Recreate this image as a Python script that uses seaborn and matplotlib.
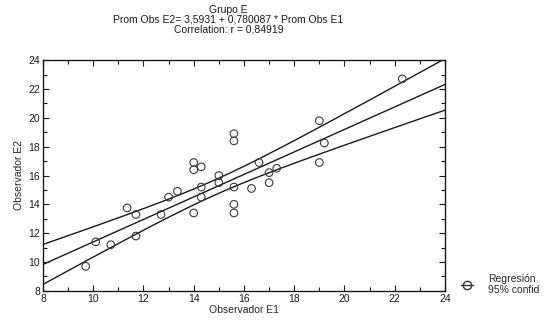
import numpy as np
import pandas as pd
import matplotlib
matplotlib.use("Agg")
import matplotlib.pyplot as plt
import seaborn as sns
from matplotlib.lines import Line2D
from matplotlib.ticker import MultipleLocator

# Data
obs_e1 = [9.7, 10.1, 10.7, 11.35, 11.7, 11.7, 12.7, 13.0, 13.35, 14.0, 14.0, 14.0,
          14.3, 14.3, 14.3, 15.0, 15.0, 15.6, 15.6, 15.6, 15.6, 15.6, 16.3, 16.6,
          17.0, 17.0, 17.3, 19.0, 19.2, 19.0, 22.3]
obs_e2 = [9.7, 11.4, 11.2, 13.75, 13.3, 11.8, 13.3, 14.5, 14.9, 16.9, 16.4, 13.4,
          16.6, 15.2, 14.5, 16.0, 15.5, 18.9, 18.4, 15.2, 14.0, 13.4, 15.1, 16.9,
          16.2, 15.5, 16.5, 19.8, 18.25, 16.9, 22.7]
intercept = 3.5931
slope = 0.780087
title_lines = ["Grupo E",
               "Prom Obs E2= 3,5931 + 0,780087 * Prom Obs E1",
               "Correlation: r = 0,84919"]
x_ticks = [8, 10, 12, 14, 16, 18, 20, 22, 24]
y_ticks = [8, 10, 12, 14, 16, 18, 20, 22, 24]

sns.set_theme(style="white")
plt.rcParams['font.family'] = ['Liberation Sans', 'DejaVu Sans']

df = pd.DataFrame({"Observador E1": obs_e1, "Observador E2": obs_e2})

# Regression line and 95% confidence band for the mean
x = np.asarray(obs_e1)
y = np.asarray(obs_e2)
n = len(x)
resid = y - (intercept + slope * x)
s = np.sqrt(np.sum(resid ** 2) / (n - 2))
xm = x.mean()
sxx = np.sum((x - xm) ** 2)
t = 2.045
xg = np.linspace(8, 24, 200)
yfit = intercept + slope * xg
hw = t * s * np.sqrt(1.0 / n + (xg - xm) ** 2 / sxx)
band = pd.DataFrame({"x": np.concatenate([xg, xg, xg]),
                     "y": np.concatenate([yfit, yfit + hw, yfit - hw]),
                     "part": ["fit"] * len(xg) + ["upper"] * len(xg) + ["lower"] * len(xg)})

fig = plt.figure(figsize=(5.44, 3.25), dpi=100)
ax = fig.add_axes([0.079, 0.105, 0.739, 0.71])

for part in ["fit", "upper", "lower"]:
    sub = band[band["part"] == part]
    sns.lineplot(data=sub, x="x", y="y", ax=ax, color="#1a1a1a", lw=1.0,
                 legend=False, sort=True)
sns.scatterplot(data=df, x="Observador E1", y="Observador E2", ax=ax,
                facecolor="none", edgecolor="#3a3a3a", linewidth=0.8, s=30,
                marker="o", legend=False, zorder=3)

ax.set_xlim(8, 24)
ax.set_ylim(8, 24)
ax.set_xticks(x_ticks)
ax.set_yticks(y_ticks)
ax.xaxis.set_minor_locator(MultipleLocator(1))
ax.yaxis.set_minor_locator(MultipleLocator(1))
ax.tick_params(which="both", direction="in", top=True, right=True, bottom=True, left=True,
               colors="#1a1a1a", labelsize=7.5, pad=2)
ax.tick_params(which="major", length=4, width=0.8)
ax.tick_params(which="minor", length=3, width=0.8)
for sp in ax.spines.values():
    sp.set_color("#1a1a1a")
    sp.set_linewidth(1.0)
ax.set_xlabel("Observador E1", fontsize=7.5, labelpad=1)
ax.set_ylabel("Observador E2", fontsize=7.5, labelpad=3)

fig.text(0.42, 0.985, "\n".join(title_lines), ha="center", va="top",
         fontsize=7.5, linespacing=1.0, color="#1a1a1a")

handle = Line2D([0], [0], color="#333333", lw=1.0, marker="o",
                markerfacecolor="none", markeredgecolor="#333333", markersize=6)
fig.legend([handle], ["Regresión\n95% confid"], loc="center left",
           bbox_to_anchor=(0.83, 0.125), frameon=False, fontsize=7.5,
           handlelength=1.2, handletextpad=1.4)

fig.savefig("out.png", dpi=100)
